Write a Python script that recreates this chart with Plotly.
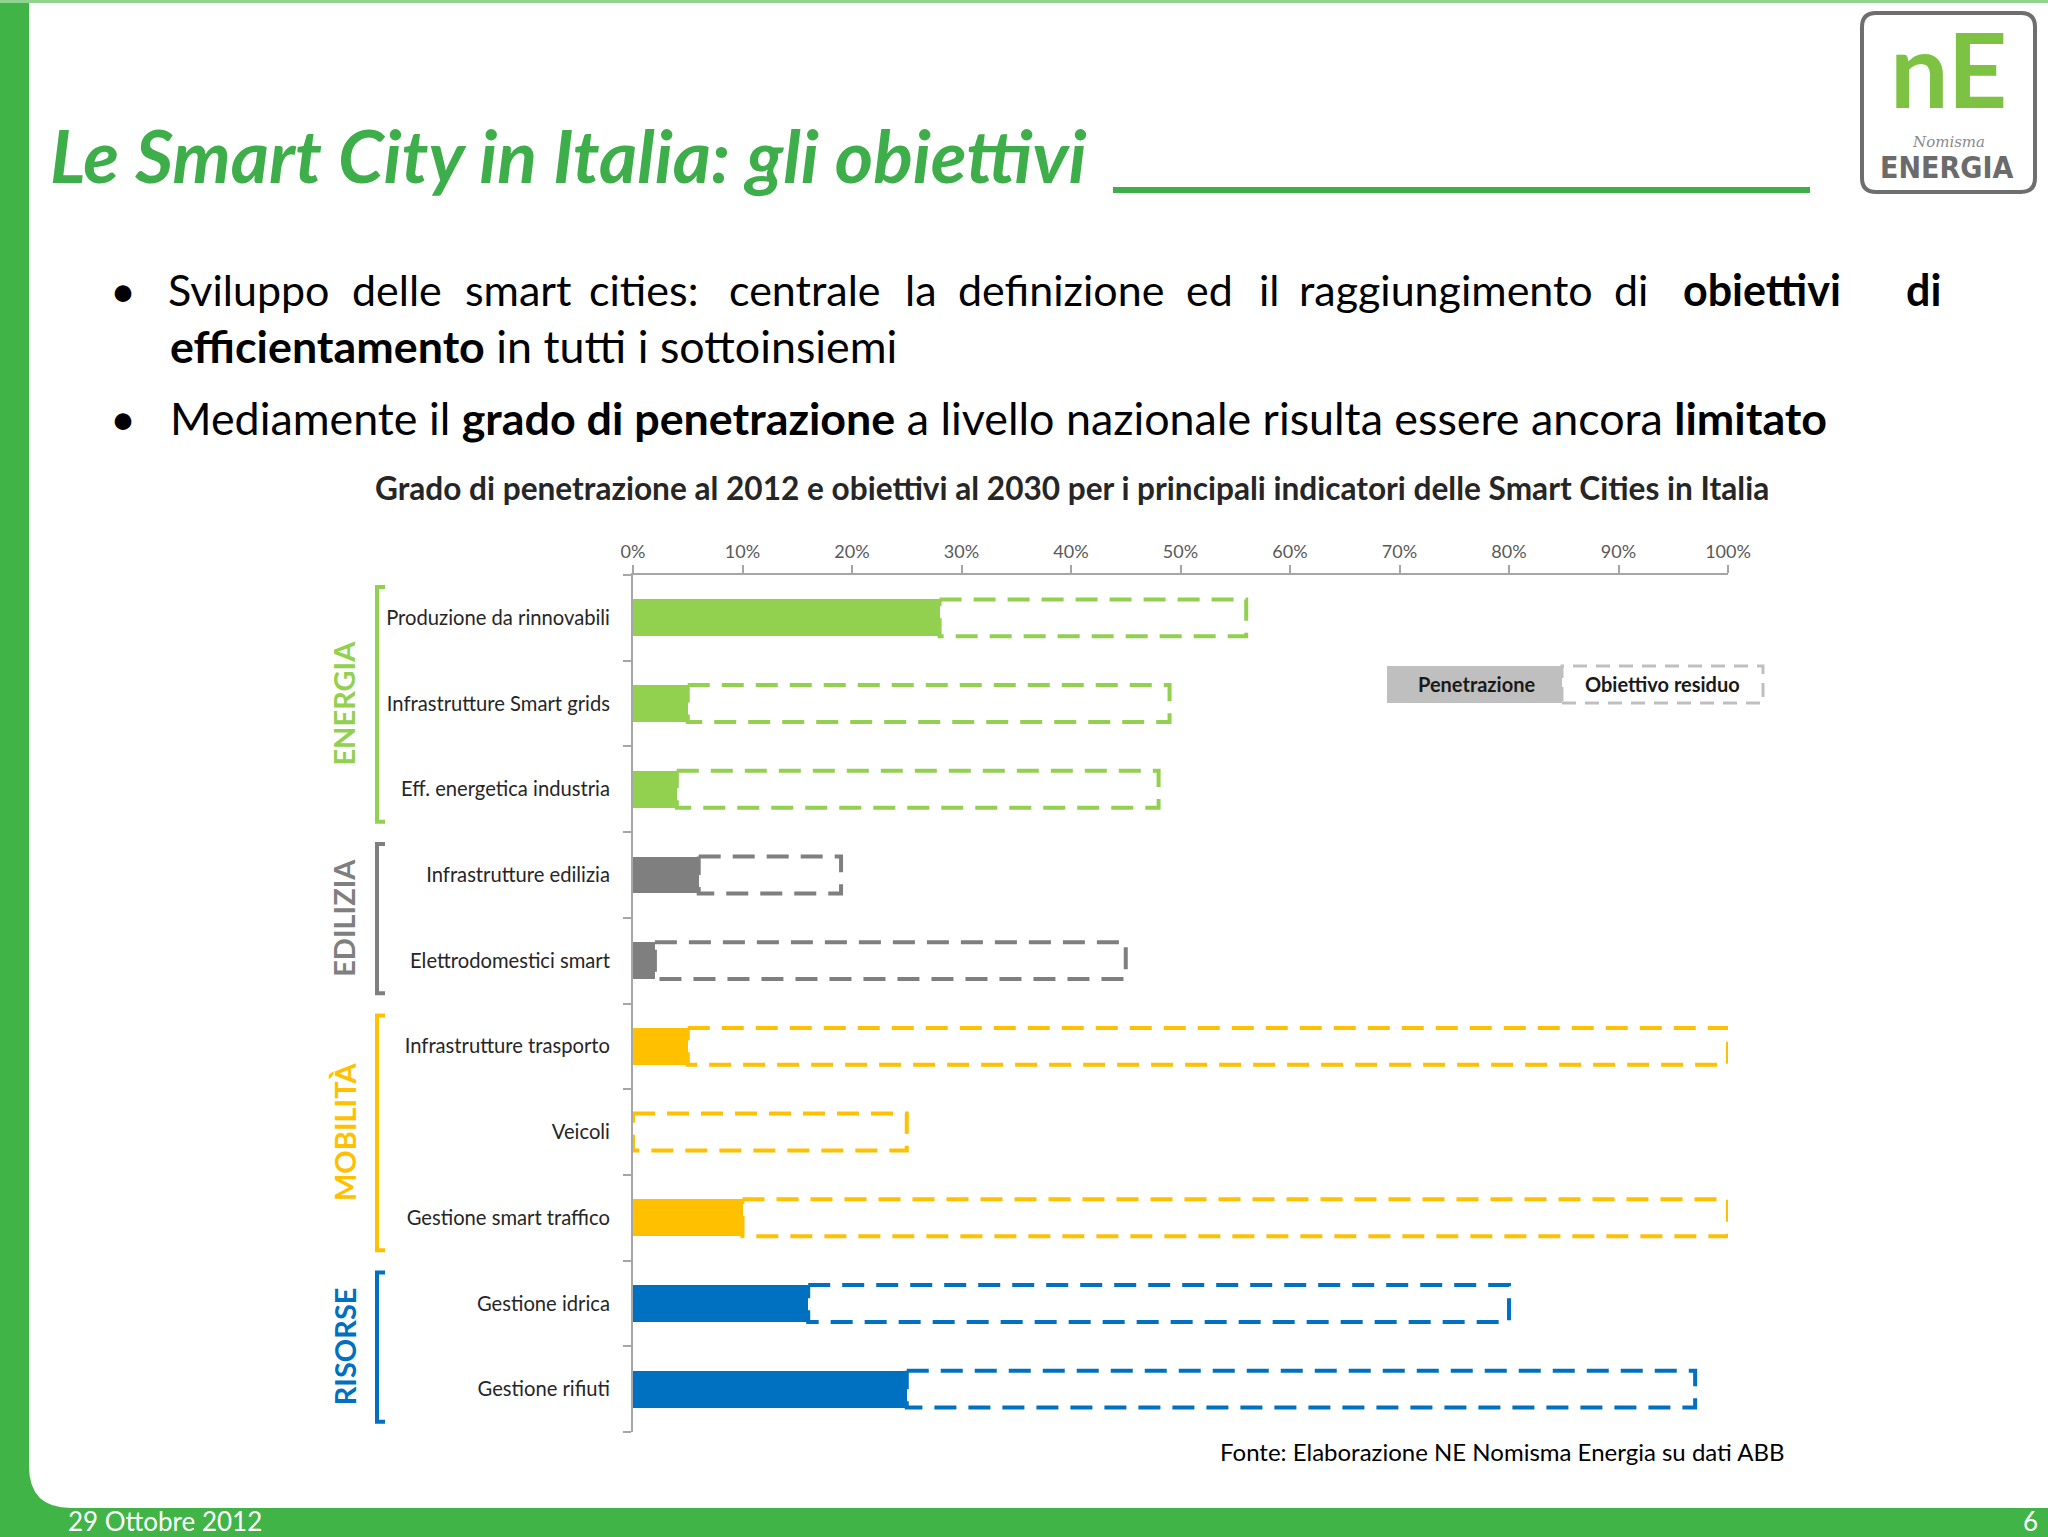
import plotly.graph_objects as go

W, H = 2048, 1537

# ---------------- data ----------------
categories = ["Produzione da rinnovabili", "Infrastrutture Smart grids", "Eff. energetica industria",
              "Infrastrutture edilizia", "Elettrodomestici smart",
              "Infrastrutture trasporto", "Veicoli", "Gestione smart traffico",
              "Gestione idrica", "Gestione rifiuti"]
groups = ["ENERGIA", "ENERGIA", "ENERGIA", "EDILIZIA", "EDILIZIA",
          "MOBILITÀ", "MOBILITÀ", "MOBILITÀ", "RISORSE", "RISORSE"]
penetrazione_2012 = [28, 5, 4, 6, 2, 5, 0, 10, 16, 25]      # % penetration 2012
obiettivo_2030 = [56, 49, 48, 19, 45, 100, 25, 100, 80, 97]  # % target 2030
group_names = ["ENERGIA", "EDILIZIA", "MOBILITÀ", "RISORSE"]
group_colors = {"ENERGIA": "#92D050", "EDILIZIA": "#7F7F7F", "MOBILITÀ": "#FFC000", "RISORSE": "#0070C0"}
x_tick_values = [0, 10, 20, 30, 40, 50, 60, 70, 80, 90, 100]
x_tick_labels = ["0%", "10%", "20%", "30%", "40%", "50%", "60%", "70%", "80%", "90%", "100%"]

title = "Le Smart City in Italia: gli obiettivi"
chart_title = "Grado di penetrazione al 2012 e obiettivi al 2030 per i principali indicatori delle Smart Cities in Italia"
source = "Fonte: Elaborazione NE Nomisma Energia su dati ABB"
legend_labels = ["Penetrazione", "Obiettivo residuo"]

# ---------------- helpers ----------------
def X(p):
    return p / W

def Y(p):
    return 1 - p / H

FONT = "Lato"
pos = list(range(len(categories)))
colors = [group_colors[g] for g in groups]
BAR_W = 0.43
hw = BAR_W / 2

fig = go.Figure()

fig.add_trace(go.Bar(
    orientation="h", x=penetrazione_2012, y=pos, width=BAR_W,
    marker=dict(color=colors, line=dict(width=0)), name=legend_labels[0],
    showlegend=False, hoverinfo="x+y"))

for i, (p, t, c) in enumerate(zip(penetrazione_2012, obiettivo_2030, colors)):
    fig.add_trace(go.Scatter(
        x=[p, t, t, p, p], y=[i - hw, i - hw, i + hw, i + hw, i - hw],
        mode="lines", line=dict(color=c, width=4, dash="22px,12px"),
        showlegend=False, hoverinfo="skip"))

shapes = []
annotations = []

# slide frame
shapes.append(dict(type="rect", xref="paper", yref="paper", x0=0, x1=X(29), y0=0, y1=1,
                   fillcolor="#41B447", line=dict(width=0), layer="below"))
shapes.append(dict(type="rect", xref="paper", yref="paper", x0=0, x1=1, y0=Y(1537), y1=Y(1508),
                   fillcolor="#41B447", line=dict(width=0), layer="below"))
shapes.append(dict(type="rect", xref="paper", yref="paper", x0=0, x1=1, y0=Y(3), y1=1,
                   fillcolor="#8FD38F", line=dict(width=0), layer="below"))
r = 42
shapes.append(dict(type="path", xref="paper", yref="paper",
                   path=f"M {X(29)},{Y(1508 - r)} L {X(29)},{Y(1508)} L {X(29 + r)},{Y(1508)} "
                        f"Q {X(29)},{Y(1508)} {X(29)},{Y(1508 - r)} Z",
                   fillcolor="#41B447", line=dict(width=0), layer="below"))
# title underline
shapes.append(dict(type="rect", xref="paper", yref="paper", x0=X(1113), x1=X(1810), y0=Y(193), y1=Y(187),
                   fillcolor="#3DAE4A", line=dict(width=0)))
# logo frame
lx0, lx1, ly0, ly1, rr = 1862, 2035, 13, 192, 14
shapes.append(dict(type="path", xref="paper", yref="paper",
                   path=(f"M {X(lx0 + rr)},{Y(ly0)} L {X(lx1 - rr)},{Y(ly0)} Q {X(lx1)},{Y(ly0)} {X(lx1)},{Y(ly0 + rr)} "
                         f"L {X(lx1)},{Y(ly1 - rr)} Q {X(lx1)},{Y(ly1)} {X(lx1 - rr)},{Y(ly1)} "
                         f"L {X(lx0 + rr)},{Y(ly1)} Q {X(lx0)},{Y(ly1)} {X(lx0)},{Y(ly1 - rr)} "
                         f"L {X(lx0)},{Y(ly0 + rr)} Q {X(lx0)},{Y(ly0)} {X(lx0 + rr)},{Y(ly0)} Z"),
                   line=dict(color="#6E6E6E", width=4), fillcolor="rgba(0,0,0,0)"))
annotations.append(dict(text="<b>nE</b>", x=X(1948), y=Y(68), xref="paper", yref="paper", showarrow=False,
                        font=dict(family=FONT, size=104, color="#7DC242"), xanchor="center", yanchor="middle"))
annotations.append(dict(text="<i>Nomisma</i>", x=X(1948), y=Y(142), xref="paper", yref="paper", showarrow=False,
                        font=dict(family="DejaVu Serif", size=15, color="#8A8A8A"), xanchor="center", yanchor="middle"))
annotations.append(dict(text="<b>ENERGIA</b>", x=X(1946), y=Y(168), xref="paper", yref="paper", showarrow=False,
                        font=dict(family="DejaVu Sans Condensed", size=30, color="#6B6B6B"),
                        xanchor="center", yanchor="middle"))

# slide title
annotations.append(dict(text=f"<b><i>{title}</i></b>", x=X(48), y=Y(154), xref="paper", yref="paper",
                        showarrow=False, font=dict(family=FONT, size=73.5, color="#3DAE4A"),
                        xanchor="left", yanchor="middle"))

# bullets
BF = 44.8
for yy in (290, 418):
    annotations.append(dict(text="•", x=X(108), y=Y(yy), xref="paper", yref="paper", showarrow=False,
                            font=dict(family=FONT, size=BF, color="#000000"), xanchor="left", yanchor="middle"))
line1_words = ["Sviluppo", "delle", "smart", "cities:", "centrale", "la", "definizione", "ed", "il",
               "raggiungimento", "di", "<b>obiettivi</b>", "<b>di</b>"]
line1_center = [248, 397, 518, 643, 805, 921, 1061, 1209, 1269, 1446, 1631, 1762, 1923]
for w, xx in zip(line1_words, line1_center):
    annotations.append(dict(text=w, x=X(xx), y=Y(290), xref="paper", yref="paper", showarrow=False,
                            font=dict(family=FONT, size=43, color="#000000"), xanchor="center", yanchor="middle"))
annotations.append(dict(text="<b>efficientamento</b> in tutti i sottoinsiemi", x=X(168), y=Y(346),
                        xref="paper", yref="paper", showarrow=False,
                        font=dict(family=FONT, size=BF, color="#000000"), xanchor="left", yanchor="middle"))
annotations.append(dict(text="Mediamente il <b>grado di penetrazione</b> a livello nazionale risulta essere ancora <b>limitato</b>",
                        x=X(168), y=Y(418), xref="paper", yref="paper", showarrow=False,
                        font=dict(family=FONT, size=BF, color="#000000"), xanchor="left", yanchor="middle"))

# chart title
annotations.append(dict(text=f"<b>{chart_title}</b>", x=X(1072), y=Y(488), xref="paper", yref="paper",
                        showarrow=False, font=dict(family=FONT, size=31.6, color="#262626"),
                        xanchor="center", yanchor="middle"))

# group brackets + labels
for g in group_names:
    idx = [i for i, gg in enumerate(groups) if gg == g]
    y0, y1 = min(idx) - 0.36, max(idx) + 0.38
    c = group_colors[g]
    shapes.append(dict(type="path", xref="paper", yref="y",
                       path=f"M {X(385)},{y0} L {X(377)},{y0} L {X(377)},{y1} L {X(385)},{y1}",
                       line=dict(color=c, width=4)))
    annotations.append(dict(text=f"<b>{g}</b>", x=X(344), y=sum(idx) / len(idx), xref="paper", yref="y",
                            showarrow=False, textangle=-90, font=dict(family=FONT, size=29, color=c),
                            xanchor="center", yanchor="middle"))

# legend
shapes.append(dict(type="rect", xref="paper", yref="paper", x0=X(1387), x1=X(1562), y0=Y(703), y1=Y(666),
                   fillcolor="#BFBFBF", line=dict(width=0)))
shapes.append(dict(type="rect", xref="paper", yref="paper", x0=X(1562), x1=X(1763), y0=Y(703), y1=Y(666),
                   fillcolor="rgba(0,0,0,0)", line=dict(color="#BFBFBF", width=3, dash="14px,9px")))
annotations.append(dict(text=f"<b>{legend_labels[0]}</b>", x=X(1476), y=Y(684), xref="paper", yref="paper",
                        showarrow=False, font=dict(family=FONT, size=20, color="#1A1A1A"),
                        xanchor="center", yanchor="middle"))
annotations.append(dict(text=f"<b>{legend_labels[1]}</b>", x=X(1662), y=Y(684), xref="paper", yref="paper",
                        showarrow=False, font=dict(family=FONT, size=20, color="#1A1A1A"),
                        xanchor="center", yanchor="middle"))

# source
annotations.append(dict(text=source, x=X(1218), y=Y(1451), xref="paper", yref="paper", showarrow=False,
                        font=dict(family=FONT, size=24, color="#000000"), xanchor="left", yanchor="middle"))
# footer
annotations.append(dict(text="29 Ottobre 2012", x=X(66), y=Y(1521), xref="paper", yref="paper", showarrow=False,
                        font=dict(family=FONT, size=26, color="#FFFFFF"), xanchor="left", yanchor="middle"))
annotations.append(dict(text="6", x=X(2040), y=Y(1521), xref="paper", yref="paper", showarrow=False,
                        font=dict(family=FONT, size=26, color="#FFFFFF"), xanchor="right", yanchor="middle"))

fig.update_layout(
    width=W, height=H, margin=dict(l=0, r=0, t=0, b=0, pad=0, autoexpand=False),
    paper_bgcolor="#FFFFFF", plot_bgcolor="rgba(0,0,0,0)",
    showlegend=False, bargap=0,
    font=dict(family=FONT, color="#262626"),
    xaxis=dict(domain=[X(633), X(1728)], range=[0, 100], side="top", showline=True, linecolor="#A6A6A6",
               linewidth=2, ticks="outside", ticklen=8, tickcolor="#A6A6A6", tickwidth=1.5,
               tickvals=x_tick_values, ticktext=x_tick_labels, showgrid=False, zeroline=False,
               automargin=False,
               tickfont=dict(family=FONT, size=18, color="#595959"), fixedrange=True),
    yaxis=dict(domain=[Y(1432), Y(575)], range=[len(categories) - 0.5, -0.5], showline=True,
               linecolor="#A6A6A6", linewidth=2, ticks="", tickvals=pos, ticktext=categories,
               showgrid=False, zeroline=False, ticklabelstandoff=17, automargin=False,
               minor=dict(tickvals=[k - 0.5 for k in range(len(categories) + 1)], ticks="outside",
                          ticklen=8, tickcolor="#A6A6A6", tickwidth=1.5),
               tickfont=dict(family=FONT, size=20.2, color="#262626"), fixedrange=True),
    shapes=shapes, annotations=annotations,
)

fig.write_html("out.html", config={"displayModeBar": False},
               post_script="document.body.style.margin='0px';document.body.style.overflow='hidden';")
